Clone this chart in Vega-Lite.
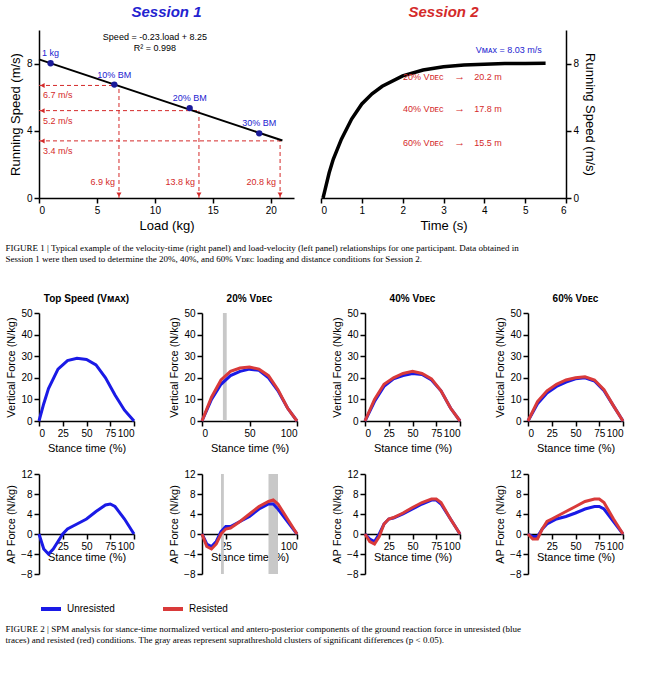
{
"$schema":"https://vega.github.io/schema/vega-lite/v6.json",
"datasets":{
"lv":[{"x":0,"y":8.25},{"x":21,"y":3.42}],
"pts":[{"x":1,"y":8.02,"t":"1 kg"},{"x":6.5,"y":6.75,"t":"10% BM"},{"x":13,"y":5.35,"t":"20% BM"},{"x":19,"y":3.85,"t":"30% BM"}],
"hr":[{"y":6.7,"x":0,"x2":6.9,"t":"6.7 m/s"},{"y":5.2,"x":0,"x2":13.8,"t":"5.2 m/s"},{"y":3.4,"x":0,"x2":20.8,"t":"3.4 m/s"}],
"vr":[{"x":6.9,"y":0,"y2":6.7,"t":"6.9 kg"},{"x":13.8,"y":0,"y2":5.2,"t":"13.8 kg"},{"x":20.8,"y":0,"y2":3.4,"t":"20.8 kg"}],
"vt":[{"t":0.05,"v":0},{"t":0.1,"v":0.5},{"t":0.2,"v":1.5},{"t":0.3,"v":2.3},{"t":0.5,"v":3.5},{"t":0.75,"v":4.7},{"t":1,"v":5.6},{"t":1.25,"v":6.2},{"t":1.5,"v":6.65},{"t":2,"v":7.27},{"t":2.5,"v":7.62},{"t":3,"v":7.81},{"t":3.5,"v":7.91},{"t":4,"v":7.96},{"t":4.5,"v":8.0},{"t":5,"v":8.01},{"t":5.5,"v":8.02}],
"vdec":[{"y":7.2,"a":"20% Vᴅᴇᴄ","d":"20.2 m"},{"y":5.3,"a":"40% Vᴅᴇᴄ","d":"17.8 m"},{"y":3.3,"a":"60% Vᴅᴇᴄ","d":"15.5 m"}],
"shade":[{"c":"20","p":"vf","x":22,"x2":26},{"c":"20","p":"ap","x":20,"x2":23},{"c":"20","p":"ap","x":70,"x2":80}],
"vf":[
{"c":"TS","g":"Unresisted","x":0,"y":0},{"c":"TS","g":"Unresisted","x":5,"y":8},{"c":"TS","g":"Unresisted","x":10,"y":15},{"c":"TS","g":"Unresisted","x":20,"y":24},{"c":"TS","g":"Unresisted","x":30,"y":28},{"c":"TS","g":"Unresisted","x":40,"y":29},{"c":"TS","g":"Unresisted","x":50,"y":28.5},{"c":"TS","g":"Unresisted","x":60,"y":26},{"c":"TS","g":"Unresisted","x":70,"y":20},{"c":"TS","g":"Unresisted","x":80,"y":12},{"c":"TS","g":"Unresisted","x":90,"y":5},{"c":"TS","g":"Unresisted","x":100,"y":0},
{"c":"20","g":"Unresisted","x":0,"y":0},{"c":"20","g":"Unresisted","x":10,"y":10},{"c":"20","g":"Unresisted","x":20,"y":17},{"c":"20","g":"Unresisted","x":30,"y":21},{"c":"20","g":"Unresisted","x":40,"y":23},{"c":"20","g":"Unresisted","x":50,"y":24},{"c":"20","g":"Unresisted","x":60,"y":23.5},{"c":"20","g":"Unresisted","x":70,"y":20},{"c":"20","g":"Unresisted","x":80,"y":14},{"c":"20","g":"Unresisted","x":90,"y":6},{"c":"20","g":"Unresisted","x":100,"y":0},
{"c":"20","g":"Resisted","x":0,"y":0},{"c":"20","g":"Resisted","x":10,"y":11},{"c":"20","g":"Resisted","x":20,"y":19},{"c":"20","g":"Resisted","x":30,"y":23},{"c":"20","g":"Resisted","x":40,"y":24.5},{"c":"20","g":"Resisted","x":50,"y":25},{"c":"20","g":"Resisted","x":60,"y":24},{"c":"20","g":"Resisted","x":70,"y":21},{"c":"20","g":"Resisted","x":80,"y":14.5},{"c":"20","g":"Resisted","x":90,"y":6},{"c":"20","g":"Resisted","x":100,"y":0},
{"c":"40","g":"Unresisted","x":0,"y":0},{"c":"40","g":"Unresisted","x":10,"y":9},{"c":"40","g":"Unresisted","x":20,"y":16},{"c":"40","g":"Unresisted","x":30,"y":19.5},{"c":"40","g":"Unresisted","x":40,"y":21},{"c":"40","g":"Unresisted","x":50,"y":22},{"c":"40","g":"Unresisted","x":60,"y":21.5},{"c":"40","g":"Unresisted","x":70,"y":19},{"c":"40","g":"Unresisted","x":80,"y":14},{"c":"40","g":"Unresisted","x":90,"y":6},{"c":"40","g":"Unresisted","x":100,"y":0},
{"c":"40","g":"Resisted","x":0,"y":0},{"c":"40","g":"Resisted","x":10,"y":10},{"c":"40","g":"Resisted","x":20,"y":17},{"c":"40","g":"Resisted","x":30,"y":20},{"c":"40","g":"Resisted","x":40,"y":22},{"c":"40","g":"Resisted","x":50,"y":23},{"c":"40","g":"Resisted","x":60,"y":22},{"c":"40","g":"Resisted","x":70,"y":19.5},{"c":"40","g":"Resisted","x":80,"y":14},{"c":"40","g":"Resisted","x":90,"y":6},{"c":"40","g":"Resisted","x":100,"y":0},
{"c":"60","g":"Unresisted","x":0,"y":0},{"c":"60","g":"Unresisted","x":10,"y":8},{"c":"60","g":"Unresisted","x":20,"y":13},{"c":"60","g":"Unresisted","x":30,"y":16},{"c":"60","g":"Unresisted","x":40,"y":18},{"c":"60","g":"Unresisted","x":50,"y":19.5},{"c":"60","g":"Unresisted","x":60,"y":20},{"c":"60","g":"Unresisted","x":70,"y":18.5},{"c":"60","g":"Unresisted","x":80,"y":14},{"c":"60","g":"Unresisted","x":90,"y":7},{"c":"60","g":"Unresisted","x":100,"y":0},
{"c":"60","g":"Resisted","x":0,"y":0},{"c":"60","g":"Resisted","x":10,"y":9},{"c":"60","g":"Resisted","x":20,"y":14},{"c":"60","g":"Resisted","x":30,"y":17},{"c":"60","g":"Resisted","x":40,"y":19},{"c":"60","g":"Resisted","x":50,"y":20},{"c":"60","g":"Resisted","x":60,"y":20.5},{"c":"60","g":"Resisted","x":70,"y":19},{"c":"60","g":"Resisted","x":80,"y":14.5},{"c":"60","g":"Resisted","x":90,"y":7},{"c":"60","g":"Resisted","x":100,"y":0}
],
"ap":[
{"c":"TS","g":"Unresisted","x":0,"y":0},{"c":"TS","g":"Unresisted","x":5,"y":-3},{"c":"TS","g":"Unresisted","x":10,"y":-4},{"c":"TS","g":"Unresisted","x":15,"y":-3},{"c":"TS","g":"Unresisted","x":20,"y":-1.5},{"c":"TS","g":"Unresisted","x":25,"y":0},{"c":"TS","g":"Unresisted","x":30,"y":1},{"c":"TS","g":"Unresisted","x":40,"y":2},{"c":"TS","g":"Unresisted","x":50,"y":3},{"c":"TS","g":"Unresisted","x":60,"y":4.5},{"c":"TS","g":"Unresisted","x":70,"y":5.8},{"c":"TS","g":"Unresisted","x":75,"y":6},{"c":"TS","g":"Unresisted","x":80,"y":5.5},{"c":"TS","g":"Unresisted","x":90,"y":3},{"c":"TS","g":"Unresisted","x":100,"y":0},
{"c":"20","g":"Unresisted","x":0,"y":0},{"c":"20","g":"Unresisted","x":5,"y":-2},{"c":"20","g":"Unresisted","x":10,"y":-2.5},{"c":"20","g":"Unresisted","x":15,"y":-1.5},{"c":"20","g":"Unresisted","x":20,"y":0.5},{"c":"20","g":"Unresisted","x":25,"y":1.5},{"c":"20","g":"Unresisted","x":30,"y":1.5},{"c":"20","g":"Unresisted","x":40,"y":2.5},{"c":"20","g":"Unresisted","x":50,"y":3.5},{"c":"20","g":"Unresisted","x":60,"y":5},{"c":"20","g":"Unresisted","x":70,"y":6},{"c":"20","g":"Unresisted","x":75,"y":6},{"c":"20","g":"Unresisted","x":80,"y":5},{"c":"20","g":"Unresisted","x":90,"y":2.5},{"c":"20","g":"Unresisted","x":100,"y":0},
{"c":"20","g":"Resisted","x":0,"y":0},{"c":"20","g":"Resisted","x":5,"y":-2.5},{"c":"20","g":"Resisted","x":10,"y":-3},{"c":"20","g":"Resisted","x":15,"y":-2},{"c":"20","g":"Resisted","x":20,"y":0},{"c":"20","g":"Resisted","x":25,"y":1},{"c":"20","g":"Resisted","x":30,"y":1.2},{"c":"20","g":"Resisted","x":40,"y":2.5},{"c":"20","g":"Resisted","x":50,"y":4},{"c":"20","g":"Resisted","x":60,"y":5.5},{"c":"20","g":"Resisted","x":70,"y":6.5},{"c":"20","g":"Resisted","x":75,"y":6.8},{"c":"20","g":"Resisted","x":80,"y":6},{"c":"20","g":"Resisted","x":90,"y":3},{"c":"20","g":"Resisted","x":100,"y":0},
{"c":"40","g":"Unresisted","x":0,"y":0},{"c":"40","g":"Unresisted","x":5,"y":-1},{"c":"40","g":"Unresisted","x":10,"y":-1.5},{"c":"40","g":"Unresisted","x":15,"y":0},{"c":"40","g":"Unresisted","x":20,"y":2},{"c":"40","g":"Unresisted","x":25,"y":3},{"c":"40","g":"Unresisted","x":30,"y":3.2},{"c":"40","g":"Unresisted","x":40,"y":4},{"c":"40","g":"Unresisted","x":50,"y":5},{"c":"40","g":"Unresisted","x":60,"y":6},{"c":"40","g":"Unresisted","x":70,"y":6.8},{"c":"40","g":"Unresisted","x":75,"y":6.8},{"c":"40","g":"Unresisted","x":80,"y":6},{"c":"40","g":"Unresisted","x":90,"y":3},{"c":"40","g":"Unresisted","x":100,"y":0},
{"c":"40","g":"Resisted","x":0,"y":0},{"c":"40","g":"Resisted","x":5,"y":-1.5},{"c":"40","g":"Resisted","x":10,"y":-2},{"c":"40","g":"Resisted","x":15,"y":-0.5},{"c":"40","g":"Resisted","x":20,"y":2},{"c":"40","g":"Resisted","x":25,"y":3},{"c":"40","g":"Resisted","x":30,"y":3.3},{"c":"40","g":"Resisted","x":40,"y":4.2},{"c":"40","g":"Resisted","x":50,"y":5.3},{"c":"40","g":"Resisted","x":60,"y":6.3},{"c":"40","g":"Resisted","x":70,"y":7},{"c":"40","g":"Resisted","x":75,"y":7},{"c":"40","g":"Resisted","x":80,"y":6.3},{"c":"40","g":"Resisted","x":90,"y":3},{"c":"40","g":"Resisted","x":100,"y":0},
{"c":"60","g":"Unresisted","x":0,"y":0},{"c":"60","g":"Unresisted","x":5,"y":-0.5},{"c":"60","g":"Unresisted","x":10,"y":-0.5},{"c":"60","g":"Unresisted","x":15,"y":1},{"c":"60","g":"Unresisted","x":20,"y":2},{"c":"60","g":"Unresisted","x":25,"y":2.5},{"c":"60","g":"Unresisted","x":30,"y":3},{"c":"60","g":"Unresisted","x":40,"y":3.5},{"c":"60","g":"Unresisted","x":50,"y":4.2},{"c":"60","g":"Unresisted","x":60,"y":5},{"c":"60","g":"Unresisted","x":70,"y":5.5},{"c":"60","g":"Unresisted","x":75,"y":5.5},{"c":"60","g":"Unresisted","x":80,"y":5},{"c":"60","g":"Unresisted","x":90,"y":2.5},{"c":"60","g":"Unresisted","x":100,"y":0},
{"c":"60","g":"Resisted","x":0,"y":0},{"c":"60","g":"Resisted","x":5,"y":-1},{"c":"60","g":"Resisted","x":10,"y":-1},{"c":"60","g":"Resisted","x":15,"y":1},{"c":"60","g":"Resisted","x":20,"y":2.5},{"c":"60","g":"Resisted","x":25,"y":3},{"c":"60","g":"Resisted","x":30,"y":3.5},{"c":"60","g":"Resisted","x":40,"y":4.5},{"c":"60","g":"Resisted","x":50,"y":5.5},{"c":"60","g":"Resisted","x":60,"y":6.5},{"c":"60","g":"Resisted","x":70,"y":7},{"c":"60","g":"Resisted","x":75,"y":7},{"c":"60","g":"Resisted","x":80,"y":6.3},{"c":"60","g":"Resisted","x":90,"y":3},{"c":"60","g":"Resisted","x":100,"y":0}
]
},
"config":{"font":"Liberation Sans","view":{"stroke":null},"axis":{"grid":false,"domainColor":"black","tickColor":"black","labelColor":"black","titleColor":"black","labelFontSize":10,"titleFontSize":11,"titleFontWeight":"normal","domainWidth":1.5,"tickWidth":1.5},"legend":{"orient":"bottom","direction":"horizontal","symbolType":"stroke","symbolStrokeWidth":4,"symbolSize":400,"labelFontSize":10,"columnPadding":40}},
"title":{"text":["FIGURE 2  |  SPM analysis for stance-time normalized vertical and antero-posterior components of the ground reaction force in unresisted (blue","traces) and resisted (red) conditions. The gray areas represent suprathreshold clusters of significant differences (p < 0.05)."],"orient":"bottom","anchor":"start","font":"Liberation Serif","fontSize":9,"fontWeight":"normal","offset":8},
"spacing":12,
"vconcat":[
{"spacing":22,"hconcat":[
{"width":255,"height":168,"title":{"text":"Session 1","color":"#2323d0","fontStyle":"italic","fontWeight":"bold","fontSize":15,"offset":10},
"layer":[
{"data":{"name":"hr"},"mark":{"type":"rule","color":"#d42a2a","strokeDash":[4,3]},"encoding":{"x":{"field":"x","type":"quantitative","scale":{"domain":[0,21]},"axis":{"title":"Load (kg)","values":[0,5,10,15,20],"titleFontSize":13}},"x2":{"field":"x2"},"y":{"field":"y","type":"quantitative","scale":{"domain":[0,10]},"axis":{"title":"Running Speed (m/s)","values":[0,2,4,6,8,10],"titleFontSize":13}}}},
{"data":{"name":"hr"},"mark":{"type":"point","shape":"triangle-left","filled":true,"color":"#d42a2a","size":25,"opacity":1},"encoding":{"x":{"datum":0.3,"type":"quantitative"},"y":{"field":"y","type":"quantitative"}}},
{"data":{"name":"hr"},"mark":{"type":"text","color":"#d42a2a","align":"left","dy":10,"dx":4,"fontSize":9},"encoding":{"x":{"datum":0,"type":"quantitative"},"y":{"field":"y","type":"quantitative"},"text":{"field":"t"}}},
{"data":{"name":"vr"},"mark":{"type":"rule","color":"#d42a2a","strokeDash":[4,3]},"encoding":{"x":{"field":"x","type":"quantitative"},"y":{"field":"y","type":"quantitative"},"y2":{"field":"y2"}}},
{"data":{"name":"vr"},"mark":{"type":"point","shape":"triangle-down","filled":true,"color":"#d42a2a","size":25,"opacity":1},"encoding":{"x":{"field":"x","type":"quantitative"},"y":{"datum":0.2,"type":"quantitative"}}},
{"data":{"name":"vr"},"mark":{"type":"text","color":"#d42a2a","align":"right","dx":-4,"dy":-6,"fontSize":9},"encoding":{"x":{"field":"x","type":"quantitative"},"y":{"datum":0.6,"type":"quantitative"},"text":{"field":"t"}}},
{"data":{"name":"lv"},"mark":{"type":"line","color":"black","strokeWidth":2},"encoding":{"x":{"field":"x","type":"quantitative"},"y":{"field":"y","type":"quantitative"}}},
{"data":{"name":"pts"},"mark":{"type":"circle","color":"#1a1a9a","size":40,"opacity":1},"encoding":{"x":{"field":"x","type":"quantitative"},"y":{"field":"y","type":"quantitative"}}},
{"data":{"name":"pts"},"mark":{"type":"text","color":"#2323d0","dy":-10,"fontSize":9},"encoding":{"x":{"field":"x","type":"quantitative"},"y":{"field":"y","type":"quantitative"},"text":{"field":"t"}}},
{"data":{"values":[{"x":10,"y":9.6,"t":"Speed = -0.23.load + 8.25"},{"x":10,"y":8.9,"t":"R² = 0.998"}]},"mark":{"type":"text","fontSize":9},"encoding":{"x":{"field":"x","type":"quantitative"},"y":{"field":"y","type":"quantitative"},"text":{"field":"t"}}}
]},
{"width":245,"height":168,"title":{"text":"Session 2","color":"#d42a2a","fontStyle":"italic","fontWeight":"bold","fontSize":15,"offset":10},
"layer":[
{"data":{"name":"vt"},"mark":{"type":"line","color":"black","strokeWidth":3.5},"encoding":{"x":{"field":"t","type":"quantitative","scale":{"domain":[0,6]},"axis":{"title":"Time (s)","titleFontSize":13,"values":[0,1,2,3,4,5,6]}},"y":{"field":"v","type":"quantitative","scale":{"domain":[0,10]},"axis":{"orient":"right","title":"Running Speed (m/s)","titleFontSize":13,"values":[0,2,4,6,8,10]}}}},
{"data":{"values":[{"x":4.6,"y":8.8,"t":"Vᴍᴀx = 8.03 m/s"}]},"mark":{"type":"text","color":"#2323d0","fontSize":9},"encoding":{"x":{"field":"x","type":"quantitative"},"y":{"field":"y","type":"quantitative"},"text":{"field":"t"}}},
{"data":{"name":"vdec"},"mark":{"type":"text","color":"#d42a2a","fontSize":9,"align":"right"},"encoding":{"x":{"datum":3.0,"type":"quantitative"},"y":{"field":"y","type":"quantitative"},"text":{"field":"a"}}},
{"data":{"name":"vdec"},"mark":{"type":"text","color":"#d42a2a","fontSize":11},"encoding":{"x":{"datum":3.4,"type":"quantitative"},"y":{"field":"y","type":"quantitative"},"text":{"value":"→"}}},
{"data":{"name":"vdec"},"mark":{"type":"text","color":"#d42a2a","fontSize":9,"align":"left"},"encoding":{"x":{"datum":3.75,"type":"quantitative"},"y":{"field":"y","type":"quantitative"},"text":{"field":"d"}}}
]}
]},
{"title":{"text":["FIGURE 1  |  Typical example of the velocity-time (right panel) and load-velocity (left panel) relationships for one participant. Data obtained in","Session 1 were then used to determine the 20%, 40%, and 60% Vᴅᴇᴄ loading and distance conditions for Session 2."],"anchor":"start","font":"Liberation Serif","fontSize":9,"fontWeight":"normal","offset":30},
"spacing":16,
"vconcat":[
{"spacing":28,"hconcat":[
{"width":95,"height":108,"title":{"text":"Top Speed (Vᴍᴀx)","fontSize":10},"layer":[
{"data":{"name":"vf"},"transform":[{"filter":"datum.c=='TS'"}],"mark":{"type":"line","strokeWidth":3},"encoding":{"x":{"field":"x","type":"quantitative","scale":{"domain":[0,100]},"axis":{"title":"Stance time (%)","values":[0,25,50,75,100]}},"y":{"field":"y","type":"quantitative","scale":{"domain":[0,50]},"axis":{"title":"Vertical Force (N/kg)","values":[0,10,20,30,40,50]}},"color":{"field":"g","type":"nominal","sort":["Unresisted","Resisted"],"scale":{"domain":["Unresisted","Resisted"],"range":["#1a1ae6","#d93a3a"]},"legend":{"title":null}}}}]},
{"width":95,"height":108,"title":{"text":"20% Vᴅᴇᴄ","fontSize":10},"layer":[
{"data":{"name":"shade"},"transform":[{"filter":"datum.c=='20' && datum.p=='vf'"}],"mark":{"type":"rect","color":"#c8c8c8"},"encoding":{"x":{"field":"x","type":"quantitative","scale":{"domain":[0,100]}},"x2":{"field":"x2"}}},
{"data":{"name":"vf"},"transform":[{"filter":"datum.c=='20'"}],"mark":{"type":"line","strokeWidth":3},"encoding":{"x":{"field":"x","type":"quantitative","axis":{"title":"Stance time (%)","values":[0,25,50,75,100]}},"y":{"field":"y","type":"quantitative","scale":{"domain":[0,50]},"axis":{"title":"Vertical Force (N/kg)","values":[0,10,20,30,40,50]}},"color":{"field":"g","type":"nominal"}}}]},
{"width":95,"height":108,"title":{"text":"40% Vᴅᴇᴄ","fontSize":10},"layer":[
{"data":{"name":"vf"},"transform":[{"filter":"datum.c=='40'"}],"mark":{"type":"line","strokeWidth":3},"encoding":{"x":{"field":"x","type":"quantitative","scale":{"domain":[0,100]},"axis":{"title":"Stance time (%)","values":[0,25,50,75,100]}},"y":{"field":"y","type":"quantitative","scale":{"domain":[0,50]},"axis":{"title":"Vertical Force (N/kg)","values":[0,10,20,30,40,50]}},"color":{"field":"g","type":"nominal"}}}]},
{"width":95,"height":108,"title":{"text":"60% Vᴅᴇᴄ","fontSize":10},"layer":[
{"data":{"name":"vf"},"transform":[{"filter":"datum.c=='60'"}],"mark":{"type":"line","strokeWidth":3},"encoding":{"x":{"field":"x","type":"quantitative","scale":{"domain":[0,100]},"axis":{"title":"Stance time (%)","values":[0,25,50,75,100]}},"y":{"field":"y","type":"quantitative","scale":{"domain":[0,50]},"axis":{"title":"Vertical Force (N/kg)","values":[0,10,20,30,40,50]}},"color":{"field":"g","type":"nominal"}}}]}
]},
{"spacing":28,"hconcat":[
{"width":95,"height":100,"layer":[
{"data":{"name":"ap"},"transform":[{"filter":"datum.c=='TS'"}],"mark":{"type":"line","strokeWidth":3},"encoding":{"x":{"field":"x","type":"quantitative","scale":{"domain":[0,100]},"axis":{"title":"Stance time (%)","values":[25,50,75,100],"offset":-40,"titlePadding":0}},"y":{"field":"y","type":"quantitative","scale":{"domain":[-8,12]},"axis":{"title":"AP Force (N/kg)","values":[-8,-4,0,4,8,12]}},"color":{"field":"g","type":"nominal"}}}]},
{"width":95,"height":100,"layer":[
{"data":{"name":"shade"},"transform":[{"filter":"datum.c=='20' && datum.p=='ap'"}],"mark":{"type":"rect","color":"#c8c8c8"},"encoding":{"x":{"field":"x","type":"quantitative","scale":{"domain":[0,100]}},"x2":{"field":"x2"}}},
{"data":{"name":"ap"},"transform":[{"filter":"datum.c=='20'"}],"mark":{"type":"line","strokeWidth":3},"encoding":{"x":{"field":"x","type":"quantitative","axis":{"title":"Stance time (%)","values":[25,50,75,100],"offset":-40,"titlePadding":0}},"y":{"field":"y","type":"quantitative","scale":{"domain":[-8,12]},"axis":{"title":"AP Force (N/kg)","values":[-8,-4,0,4,8,12]}},"color":{"field":"g","type":"nominal"}}}]},
{"width":95,"height":100,"layer":[
{"data":{"name":"ap"},"transform":[{"filter":"datum.c=='40'"}],"mark":{"type":"line","strokeWidth":3},"encoding":{"x":{"field":"x","type":"quantitative","scale":{"domain":[0,100]},"axis":{"title":"Stance time (%)","values":[25,50,75,100],"offset":-40,"titlePadding":0}},"y":{"field":"y","type":"quantitative","scale":{"domain":[-8,12]},"axis":{"title":"AP Force (N/kg)","values":[-8,-4,0,4,8,12]}},"color":{"field":"g","type":"nominal"}}}]},
{"width":95,"height":100,"layer":[
{"data":{"name":"ap"},"transform":[{"filter":"datum.c=='60'"}],"mark":{"type":"line","strokeWidth":3},"encoding":{"x":{"field":"x","type":"quantitative","scale":{"domain":[0,100]},"axis":{"title":"Stance time (%)","values":[25,50,75,100],"offset":-40,"titlePadding":0}},"y":{"field":"y","type":"quantitative","scale":{"domain":[-8,12]},"axis":{"title":"AP Force (N/kg)","values":[-8,-4,0,4,8,12]}},"color":{"field":"g","type":"nominal"}}}]}
]}
]}
]
}
